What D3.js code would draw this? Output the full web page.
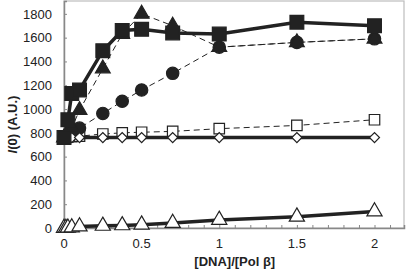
<!DOCTYPE html>
<html>
<head>
<meta charset="utf-8">
<script src="https://cdn.jsdelivr.net/npm/d3@7"></script>
<style>
  body { margin: 0; background: #fff; }
  text { font-family: "Liberation Sans", Arial, sans-serif; }
</style>
</head>
<body>
<div id="wrapper"></div>
<script>
// data
const xTicks = [0, 0.5, 1, 1.5, 2]
const yTicks = [0, 200, 400, 600, 800, 1000, 1200, 1400, 1600, 1800]

const sqFilledX = [0, 0.025, 0.05, 0.1, 0.25, 0.375, 0.5, 0.7, 1, 1.5, 2]
const sqFilledY = [760, 910, 1130, 1160, 1490, 1660, 1670, 1640, 1630, 1730, 1700]

const triFilledX = [0, 0.05, 0.1, 0.25, 0.375, 0.5, 0.7, 1, 1.5, 2]
const triFilledY = [760, 840, 990, 1340, 1630, 1800, 1700, 1520, 1560, 1590]

const circFilledX = [0, 0.05, 0.1, 0.25, 0.375, 0.5, 0.7, 1, 1.5, 2]
const circFilledY = [760, 800, 840, 963, 1065, 1160, 1300, 1520, 1560, 1590]

const sqOpenX = [0, 0.025, 0.05, 0.1, 0.25, 0.375, 0.5, 0.7, 1, 1.5, 2]
const sqOpenY = [760, 765, 768, 772, 790, 800, 805, 812, 835, 862, 910]

const diaOpenX = [0, 0.0125, 0.025, 0.05, 0.1, 0.25, 0.375, 0.5, 0.7, 1, 1.5, 2]
const diaOpenY = [760, 760, 760, 760, 760, 760, 760, 760, 760, 760, 760, 760]

const triOpenX = [0, 0.0125, 0.025, 0.05, 0.1, 0.25, 0.375, 0.5, 0.7, 1, 1.5, 2]
const triOpenY = [0, 0, 2, 4, 12, 18, 22, 28, 42, 68, 95, 138]

function drawChart() {
  const dimensions = {
    width: 406,
    height: 270,
    margin: { top: 1, right: 2, bottom: 42, left: 64 },
  }
  dimensions.boundedWidth = dimensions.width - dimensions.margin.left - dimensions.margin.right
  dimensions.boundedHeight = dimensions.height - dimensions.margin.top - dimensions.margin.bottom

  const wrapper = d3.select("#wrapper").append("svg")
    .attr("width", dimensions.width)
    .attr("height", dimensions.height)

  const bounds = wrapper.append("g")
    .attr("transform", `translate(${dimensions.margin.left},${dimensions.margin.top})`)

  const xScale = d3.scaleLinear()
    .domain([0, 2.19])
    .range([0, dimensions.boundedWidth])
  const yScale = d3.scaleLinear()
    .domain([0, 1908])
    .range([dimensions.boundedHeight, 0])

  // frame
  bounds.append("rect")
    .attr("x", 0).attr("y", 0)
    .attr("width", dimensions.boundedWidth)
    .attr("height", dimensions.boundedHeight)
    .attr("fill", "none")
    .attr("stroke", "#bdbdbd")
    .attr("stroke-width", 1.2)

  // y axis
  const yAxis = bounds.append("g")
    .call(d3.axisRight(yScale).tickValues(yTicks).tickSize(3).tickFormat(""))
  yAxis.select(".domain").attr("stroke", "#888").attr("stroke-width", 1.5)
  yAxis.selectAll(".tick line").attr("stroke", "#888")
  yTicks.forEach(t => {
    bounds.append("text")
      .attr("x", -12)
      .attr("y", yScale(t))
      .attr("dy", "0.36em")
      .attr("text-anchor", "end")
      .style("font-size", "13px")
      .attr("fill", "#222")
      .text(t)
  })

  // x axis
  const xAxis = bounds.append("g")
    .attr("transform", `translate(0,${dimensions.boundedHeight})`)
    .call(d3.axisTop(xScale).ticks(22).tickSize(3).tickFormat(""))
  xAxis.select(".domain").attr("stroke", "#888").attr("stroke-width", 1.5)
  xAxis.selectAll(".tick line").attr("stroke", "#888")
  xTicks.forEach(t => {
    bounds.append("text")
      .attr("x", xScale(t))
      .attr("y", dimensions.boundedHeight + 20)
      .attr("text-anchor", "middle")
      .style("font-size", "13px")
      .attr("fill", "#222")
      .text(t)
  })

  // axis labels
  bounds.append("text")
    .attr("x", xScale(1.1))
    .attr("y", dimensions.boundedHeight + 38)
    .attr("text-anchor", "middle")
    .style("font-size", "13px")
    .style("font-weight", "bold")
    .attr("fill", "#222")
    .text("[DNA]/[Pol β]")

  const yLabel = bounds.append("text")
    .attr("transform", `translate(${-47},${yScale(870)}) rotate(-90)`)
    .attr("text-anchor", "middle")
    .style("font-size", "13px")
    .style("font-weight", "bold")
    .attr("fill", "#222")
  yLabel.append("tspan").style("font-style", "italic").text("I")
  yLabel.append("tspan").text("(0) (A.U.)")

  const lineGen = d3.line()
    .x(d => xScale(d[0]))
    .y(d => yScale(d[1]))

  const series = [
    { xs: sqOpenX, ys: sqOpenY, width: 1, dash: "6,4", sym: d3.symbolSquare, size: 110, fill: "#fff", rot: 0 },
    { xs: circFilledX, ys: circFilledY, width: 1, dash: "6,4", sym: d3.symbolCircle, size: 120, fill: "#222", rot: 0 },
    { xs: triFilledX, ys: triFilledY, width: 1, dash: "6,4", sym: d3.symbolTriangle, size: 95, fill: "#222", rot: 0 },
    { xs: diaOpenX, ys: diaOpenY, width: 3.5, dash: null, sym: d3.symbolSquare, size: 50, fill: "#fff", rot: 45 },
    { xs: triOpenX, ys: triOpenY, width: 3.5, dash: null, sym: d3.symbolTriangle, size: 100, fill: "#fff", rot: 0 },
    { xs: sqFilledX, ys: sqFilledY, width: 3.5, dash: null, sym: d3.symbolSquare, size: 190, fill: "#222", rot: 0 },
  ]

  series.forEach(s => {
    const pts = s.xs.map((x, i) => [x, s.ys[i]])
    bounds.append("path")
      .attr("d", lineGen(pts))
      .attr("fill", "none")
      .attr("stroke", "#222")
      .attr("stroke-width", s.width)
      .attr("stroke-dasharray", s.dash)
    const symGen = d3.symbol().type(s.sym).size(s.size)
    bounds.append("g").selectAll("path")
      .data(pts)
      .join("path")
      .attr("transform", d => `translate(${xScale(d[0])},${yScale(d[1])}) rotate(${s.rot})`)
      .attr("d", symGen)
      .attr("fill", s.fill)
      .attr("stroke", "#222")
      .attr("stroke-width", 1.2)
  })
}
drawChart()
</script>
</body>
</html>
